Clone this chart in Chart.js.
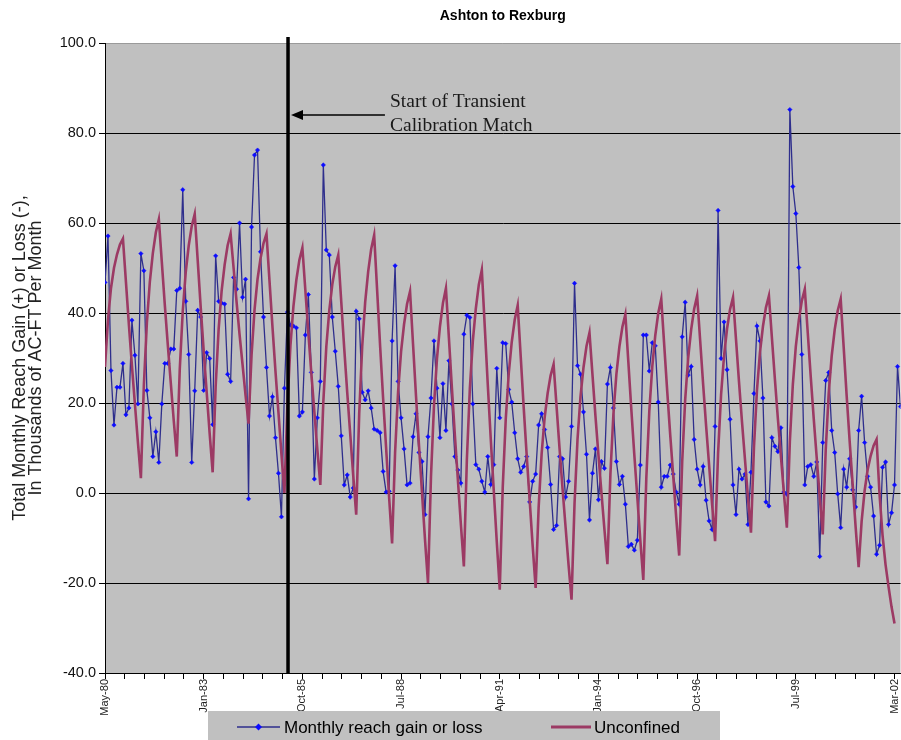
<!DOCTYPE html>
<html>
<head>
<meta charset="utf-8">
<title>Ashton to Rexburg</title>
<script src="https://cdn.jsdelivr.net/npm/chart.js@4.4.1/dist/chart.umd.min.js"></script>
<style>
  html, body { margin: 0; padding: 0; background: #fff; }
  #wrap { width: 901px; height: 740px; overflow: hidden; }
</style>
</head>
<body>
<!-- canvas is a little wider than the page: the source plot runs off its right edge -->
<div id="wrap"><canvas id="chart" width="905" height="740"></canvas></div>
<script>
// Monthly reach gain or loss (thousands of AC-FT), one value per month
const monthlyGain = [
  46.8, 57.1, 27.2, 15.1, 23.5, 23.5, 28.8, 17.4, 18.9, 38.4,
  30.6, 19.8, 53.2, 49.4, 22.8, 16.7, 8.1, 13.6, 6.8, 19.8,
  28.8, 28.8, 32, 32, 45, 45.5, 67.4, 42.6, 30.8, 6.8,
  22.7, 40.6, 39.1, 22.8, 31.2, 29.9, 15.2, 52.7, 42.6, 42.2,
  42, 26.4, 24.8, 47.9, 45.3, 60, 43.5, 47.5, -1.3, 59.1,
  75.1, 76.2, 53.6, 39.1, 27.9, 17.1, 21.4, 12.3, 4.4, -5.3,
  23.3, 40.2, 37.3, 37.1, 36.7, 17.1, 18, 35.1, 44.1, 26.8,
  3.1, 16.7, 24.8, 72.9, 54, 52.9, 39.1, 31.5, 23.7, 12.7,
  1.8, 4, -0.9, 1.1, 40.4, 38.7, 22.4, 20.7, 22.7, 18.9,
  14.2, 13.9, 13.4, 4.8, 0.2, 0.4, 33.8, 50.5, 24.8, 16.7,
  9.8, 1.8, 2.2, 12.5, 17.6, 9, 7, -4.8, 12.5, 21.1,
  33.8, 23.3, 12.3, 24.3, 13.9, 29.4, 19.8, 8.1, 5.1, 2.2,
  35.3, 39.5, 39, 19.8, 6.3, 5.3, 2.6, 0.2, 8.1, 1.9,
  6.3, 27.7, 16.7, 33.4, 33.2, 23, 20.2, 13.4, 7.6, 4.6,
  5.9, 8.1, -2, 2.6, 4.2, 15.1, 17.6, 14.1, 10.1, 1.9,
  -8.1, -7.2, 8.1, 7.6, -0.9, 2.6, 14.8, 46.6, 28.3, 26.4,
  18, 8.6, -6, 4.4, 9.8, -1.5, 7, 5.5, 24.2, 27.9,
  18.9, 7, 1.9, 3.7, -2.5, -11.9, -11.4, -12.7, -10.5, 6.2,
  35.1, 35.1, 27.1, 33.4, 32.7, 20.2, 1.3, 3.7, 3.7, 6.2,
  4.2, 0.2, -2.5, 34.7, 42.4, 26.2, 28.1, 11.9, 5.3, 1.8,
  5.9, -1.6, -6.2, -8.1, 14.8, 62.8, 29.9, 38, 27.4, 16.4,
  1.8, -4.8, 5.3, 3.1, 4.2, -7, 4.6, 22.1, 37.1, 33.8,
  21.1, -2, -2.9, 12.3, 10.4, 9.2, 14.5, 0.2, -0.3, 85.2,
  68.1, 62.1, 50.1, 30.8, 1.8, 5.9, 6.3, 3.7, 6.9, -14.1,
  11.2, 25, 26.8, 13.9, 9, -0.2, -7.7, 5.3, 1.3, 7.6,
  0.7, -3.1, 13.9, 21.5, 11.2, 3.7, 1.3, -5.1, -13.6, -11.6,
  5.7, 6.9, -7, -4.4, 1.8, 28.1, 19.2
];

// Unconfined model curve, same months (ends before the last two observed months)
const unconfined = [
  28, 38.5, 45.5, 50, 53, 55.2, 56.5, 46.9, 37.3, 28.3,
  19.8, 11.3, 3.3, 24.0, 37.8, 47.0, 53.3, 57.9, 60.8, 51.3,
  41.8, 32.9, 24.4, 16.0, 8.1, 27.5, 40.4, 49.1, 55.0, 59.3,
  62, 51.7, 41.3, 31.6, 22.4, 13.2, 4.6, 23.7, 36.4, 44.9,
  50.7, 55.0, 57.6, 50.0, 42.4, 35.2, 28.5, 21.7, 15.4, 30.6,
  40.7, 47.5, 52.1, 55.5, 57.6, 47.2, 36.9, 27.1, 17.9, 8.6,
  0, 19.6, 32.7, 41.4, 47.4, 51.8, 54.5, 45.0, 35.5, 26.6,
  18.1, 9.7, 1.8, 20.2, 32.5, 40.6, 46.3, 50.3, 52.9, 42.5,
  32.1, 22.3, 13.1, 3.9, -4.8, 17.6, 32.5, 42.4, 49.2, 54.2,
  57.3, 45.0, 32.6, 21.0, 10.0, -0.9, -11.2, 9.0, 22.4, 31.4,
  37.5, 42.0, 44.8, 33.1, 21.5, 10.5, 0.1, -10.3, -20, 3.6,
  19.3, 29.8, 37.0, 42.2, 45.5, 34.4, 23.3, 12.7, 2.9, -7.0,
  -16.3, 7.4, 23.2, 33.8, 41.0, 46.3, 49.6, 36.8, 24.0, 11.9,
  0.5, -10.8, -21.5, 1.3, 16.4, 26.5, 33.5, 38.5, 41.7, 30.4,
  19.1, 8.4, -1.6, -11.7, -21.1, -3.2, 8.7, 16.7, 22.1, 26.1,
  28.6, 19.2, 9.8, 0.9, -7.5, -15.9, -23.7, -2.4, 11.9, 21.4,
  27.9, 32.6, 35.6, 26.3, 17.1, 8.4, 0.1, -8.1, -15.8, 4.2,
  17.5, 26.4, 32.5, 36.9, 39.7, 29.1, 18.5, 8.4, -1.0, -10.5,
  -19.3, 3.2, 18.1, 28.1, 35.0, 40.0, 43.1, 32.8, 22.6, 12.9,
  3.8, -5.4, -13.9, 6.9, 20.7, 30.0, 36.3, 40.9, 43.8, 34.0,
  24.2, 14.9, 6.2, -2.5, -10.7, 8.8, 21.8, 30.5, 36.5, 40.8,
  43.5, 34.1, 24.7, 15.8, 7.4, -1.0, -8.8, 10.1, 22.8, 31.2,
  37.0, 41.2, 43.8, 34.5, 25.3, 16.5, 8.3, 0.0, -7.7, 11.4,
  24.1, 32.6, 38.4, 42.7, 45.3, 35.5, 25.7, 16.4, 7.7, -1.0,
  -9.2, 9.6, 22.2, 30.5, 36.3, 40.5, 43.1, 32.4, 21.6, 11.5,
  2.0, -7.6, -16.5, -6.3, 0.5, 5.1, 8.2, 10.5, 11.9, -0.4,
  -9.4, -15.9, -20.8, -25.3, -29, null, null
];

// Category labels shown every 33 months, with 5 tick marks per label step
const xTickLabels = ['May-80', 'Jan-83', 'Oct-85', 'Jul-88', 'Apr-91', 'Jan-94', 'Oct-96', 'Jul-99', 'Mar-02'];
const monthsPerLabel = 33;
const ticksPerLabel = 5;
const yTickValues = [-40, -20, 0, 20, 40, 60, 80, 100];

const chartTitle = 'Ashton to Rexburg';
const yTitle = ['Total Monthly Reach Gain (+) or Loss (-),', 'In Thousands of AC-FT Per Month'];

// "Start of Transient Calibration Match" marker (month index along the x axis)
const calibrationMonth = 61.2;
const noteText = ['Start of Transient', 'Calibration Match'];
const noteMonth = 95.3;
const noteBaselines = [85.7, 80.5];
const arrowValue = 84;
const arrowTailMonth = 93.6;

const sansFont = '"Liberation Sans", Arial, sans-serif';
const serifFont = '"Liberation Serif", "Times New Roman", serif';

const xTickValues = [];
for (let i = 0; i <= (xTickLabels.length - 1) * ticksPerLabel; i++) {
  xTickValues.push(i * monthsPerLabel / ticksPerLabel);
}

const plotBackground = {
  id: 'plotBackground',
  beforeDraw(chart) {
    const { ctx, chartArea: a, scales: { x, y } } = chart;
    ctx.save();
    ctx.fillStyle = '#c0c0c0';
    ctx.fillRect(a.left, a.top, a.right - a.left, a.bottom - a.top);
    ctx.strokeStyle = '#9a9a9a';
    ctx.lineWidth = 1;
    ctx.beginPath();
    ctx.moveTo(a.left, a.top + 0.5);
    ctx.lineTo(a.right, a.top + 0.5);
    ctx.stroke();
    // note text sits under the gridlines, as in the source
    ctx.fillStyle = '#1a1a1a';
    ctx.font = '19.5px ' + serifFont;
    ctx.textBaseline = 'alphabetic';
    noteText.forEach((t, i) => {
      ctx.fillText(t, x.getPixelForValue(noteMonth), y.getPixelForValue(noteBaselines[i]));
    });
    ctx.restore();
  }
};

const calibrationMarker = {
  id: 'calibrationMarker',
  afterDatasetsDraw(chart) {
    const { ctx, chartArea: a, scales: { x, y } } = chart;
    const lx = x.getPixelForValue(calibrationMonth);
    ctx.save();
    ctx.strokeStyle = '#000';
    ctx.lineWidth = 3.5;
    ctx.beginPath();
    ctx.moveTo(lx, a.top - 6);
    ctx.lineTo(lx, a.bottom);
    ctx.stroke();

    const ay = y.getPixelForValue(arrowValue);
    const head = lx + 3;
    ctx.lineWidth = 1.5;
    ctx.beginPath();
    ctx.moveTo(x.getPixelForValue(arrowTailMonth), ay);
    ctx.lineTo(head + 8, ay);
    ctx.stroke();
    ctx.fillStyle = '#000';
    ctx.beginPath();
    ctx.moveTo(head, ay);
    ctx.lineTo(head + 12, ay - 5);
    ctx.lineTo(head + 12, ay + 5);
    ctx.closePath();
    ctx.fill();
    ctx.restore();
  }
};

const titleAndLegend = {
  id: 'titleAndLegend',
  afterDraw(chart) {
    const { ctx, chartArea: a } = chart;
    const ds = chart.data.datasets;
    ctx.save();
    ctx.fillStyle = '#000';
    ctx.font = 'bold 14px ' + sansFont;
    ctx.textAlign = 'center';
    ctx.textBaseline = 'middle';
    ctx.fillText(chartTitle, (a.left + a.right) / 2, 16);

    // legend box under the axis labels
    ctx.fillStyle = '#c0c0c0';
    ctx.fillRect(208, 711, 512, 30);
    const ly = 727;
    ctx.textAlign = 'left';
    ctx.font = '17px ' + sansFont;

    ctx.strokeStyle = ds[0].borderColor;
    ctx.lineWidth = 1.5;
    ctx.beginPath();
    ctx.moveTo(237, ly);
    ctx.lineTo(280, ly);
    ctx.stroke();
    ctx.fillStyle = ds[0].pointBackgroundColor;
    ctx.beginPath();
    ctx.moveTo(258.5, ly - 3.5);
    ctx.lineTo(262, ly);
    ctx.lineTo(258.5, ly + 3.5);
    ctx.lineTo(255, ly);
    ctx.closePath();
    ctx.fill();
    ctx.fillStyle = '#000';
    ctx.fillText(ds[0].label, 284, ly + 1);

    ctx.strokeStyle = ds[1].borderColor;
    ctx.lineWidth = 3;
    ctx.beginPath();
    ctx.moveTo(551, ly);
    ctx.lineTo(591, ly);
    ctx.stroke();
    ctx.fillStyle = '#000';
    ctx.fillText(ds[1].label, 594, ly + 1);
    ctx.restore();
  }
};

new Chart(document.getElementById('chart'), {
  type: 'line',
  data: {
    datasets: [
      {
        label: 'Monthly reach gain or loss',
        data: monthlyGain.map((v, i) => ({ x: i, y: v })),
        borderColor: '#2e2e8c',
        borderWidth: 1.3,
        pointStyle: 'rectRot',
        pointRadius: 2.2,
        pointBackgroundColor: '#0c0cff',
        pointBorderColor: '#0c0cff',
        pointBorderWidth: 0.5,
        tension: 0,
        order: 1
      },
      {
        label: 'Unconfined',
        data: unconfined.map((v, i) => ({ x: i, y: v })),
        borderColor: '#9c3a64',
        borderWidth: 2.6,
        pointRadius: 0,
        tension: 0,
        spanGaps: false,
        order: 0
      }
    ]
  },
  options: {
    responsive: false,
    animation: false,
    devicePixelRatio: 1,
    layout: { padding: { top: 43, right: 0, bottom: 0, left: 0 } },
    plugins: {
      legend: { display: false },
      title: { display: false },
      tooltip: { enabled: false }
    },
    scales: {
      x: {
        type: 'linear',
        min: 0,
        max: monthlyGain.length - 1,
        afterBuildTicks: s => { s.ticks = xTickValues.map(v => ({ value: v })); },
        afterFit: s => { s.height = 67; s.paddingLeft = 0; s.paddingRight = 0; },
        grid: { drawOnChartArea: false, drawTicks: true, tickLength: 6, tickColor: '#000' },
        border: { display: true, color: '#000', width: 1 },
        ticks: {
          autoSkip: false,
          minRotation: 90,
          maxRotation: 90,
          padding: 0,
          color: '#222',
          font: { family: sansFont, size: 11 },
          callback: (v, i) => (i % ticksPerLabel === 0 ? xTickLabels[i / ticksPerLabel] : '')
        }
      },
      y: {
        min: -40,
        max: 100,
        afterBuildTicks: s => { s.ticks = yTickValues.map(v => ({ value: v })); },
        afterFit: s => { s.width = 105; },
        grid: {
          color: c => (c.tick && c.tick.value === 100 ? 'rgba(0,0,0,0)' : '#000'),
          tickColor: '#000',
          tickLength: 6,
          lineWidth: 1
        },
        border: { display: true, color: '#000', width: 1 },
        ticks: {
          color: '#111',
          padding: 3,
          font: { family: sansFont, size: 14.5 },
          callback: v => v.toFixed(1)
        },
        title: {
          display: true,
          text: yTitle,
          color: '#222',
          font: { family: sansFont, size: 18, lineHeight: 0.9 },
          padding: { top: 12, bottom: 0 }
        }
      }
    }
  },
  plugins: [plotBackground, calibrationMarker, titleAndLegend]
});
</script>
</body>
</html>
